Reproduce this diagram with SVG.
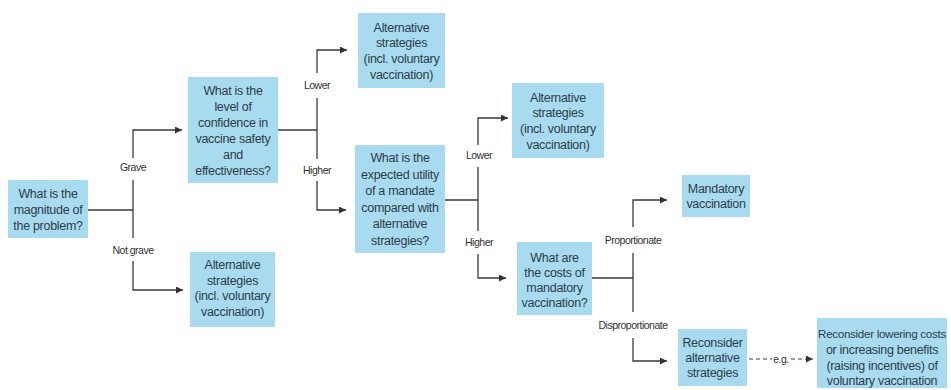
<svg xmlns="http://www.w3.org/2000/svg" width="951" height="390" viewBox="0 0 951 390">
<defs>
<marker id="arr" markerUnits="userSpaceOnUse" markerWidth="7" markerHeight="7" refX="7" refY="3.5" orient="auto">
<path d="M0,0 L7,3.5 L0,7 z" fill="#333"/>
</marker>
<style>
.box{fill:#a9dbf0;}
.t{font-family:"Liberation Sans",Arial,sans-serif;font-size:12.5px;letter-spacing:-0.3px;fill:#2e3b48;text-anchor:middle;}
.sm{font-size:11.6px;}
.lb{font-family:"Liberation Sans",Arial,sans-serif;font-size:10.5px;letter-spacing:-0.5px;fill:#333;text-anchor:middle;}
.ln{fill:none;stroke:#3a3a3a;stroke-width:1.3;}
.dash{fill:none;stroke:#3a3a3a;stroke-width:1.2;stroke-dasharray:4 3;}
</style>
</defs>
<rect width="951" height="390" fill="#fff"/>

<g id="connectors">
<path class="ln" d="M88,210 H133"/>
<path class="ln" d="M133,158 V130 H182" marker-end="url(#arr)"/>
<path class="ln" d="M133,180 V238"/>
<path class="ln" d="M133,261 V290 H183" marker-end="url(#arr)"/>

<path class="ln" d="M278,130 H317"/>
<path class="ln" d="M317,73 V50 H347" marker-end="url(#arr)"/>
<path class="ln" d="M317,98 V159"/>
<path class="ln" d="M317,181 V210 H346" marker-end="url(#arr)"/>

<path class="ln" d="M445,200 H478"/>
<path class="ln" d="M478,145 V118 H508" marker-end="url(#arr)"/>
<path class="ln" d="M478,167 V231"/>
<path class="ln" d="M478,254 V278 H506" marker-end="url(#arr)"/>

<path class="ln" d="M592,278 H633"/>
<path class="ln" d="M633,227 V200 H667" marker-end="url(#arr)"/>
<path class="ln" d="M633,253 V312"/>
<path class="ln" d="M633,338 V361 H667" marker-end="url(#arr)"/>

<path class="dash" d="M749,359 H772"/>
<path class="dash" d="M791,359 H813" marker-end="url(#arr)"/>

<text class="lb" x="133" y="170.5">Grave</text>
<text class="lb" x="133" y="253.5">Not grave</text>
<text class="lb" x="317" y="88.5">Lower</text>
<text class="lb" x="317" y="173.5">Higher</text>
<text class="lb" x="479" y="158.5">Lower</text>
<text class="lb" x="479" y="245.5">Higher</text>
<text class="lb" x="633" y="243.5">Proportionate</text>
<text class="lb" x="633" y="328.5">Disproportionate</text>
<text class="lb" x="781" y="362.5">e.g.</text>
</g>

<g id="n1">
<rect class="box" x="8" y="180" width="80" height="58"/>
<text class="t" x="48" y="197.5">What is the</text>
<text class="t" x="48" y="213.5">magnitude of</text>
<text class="t" x="48" y="229.5">the problem?</text>
</g>

<g id="n2">
<rect class="box" x="188" y="77" width="90" height="106"/>
<text class="t" x="233" y="94.5">What is the</text>
<text class="t" x="233" y="110.5">level of</text>
<text class="t" x="233" y="126.5">confidence in</text>
<text class="t" x="233" y="142.5">vaccine safety</text>
<text class="t" x="233" y="158.5">and</text>
<text class="t" x="233" y="174.5">effectiveness?</text>
</g>

<g id="n3">
<rect class="box" x="358" y="13" width="87" height="75"/>
<text class="t" x="401.5" y="31.5">Alternative</text>
<text class="t" x="401.5" y="47.2">strategies</text>
<text class="t" x="401.5" y="62.8">(incl. voluntary</text>
<text class="t" x="401.5" y="78.5">vaccination)</text>
</g>

<g id="n4">
<rect class="box" x="512" y="83" width="92" height="75"/>
<text class="t" x="558" y="101.5">Alternative</text>
<text class="t" x="558" y="117.2">strategies</text>
<text class="t" x="558" y="132.8">(incl. voluntary</text>
<text class="t" x="558" y="148.5">vaccination)</text>
</g>

<g id="n5">
<rect class="box" x="355" y="145" width="90" height="108"/>
<text class="t" x="400" y="162">What is the</text>
<text class="t" x="400" y="178.6">expected utility</text>
<text class="t" x="400" y="195.2">of a mandate</text>
<text class="t" x="400" y="211.8">compared with</text>
<text class="t" x="400" y="228.4">alternative</text>
<text class="t" x="400" y="245">strategies?</text>
</g>

<g id="n6">
<rect class="box" x="190" y="252" width="85" height="75"/>
<text class="t" x="232.5" y="269">Alternative</text>
<text class="t" x="232.5" y="284.5">strategies</text>
<text class="t" x="232.5" y="300">(incl. voluntary</text>
<text class="t" x="232.5" y="315.5">vaccination)</text>
</g>

<g id="n7">
<rect class="box" x="517" y="242" width="75" height="73"/>
<text class="t" x="554.5" y="261.5">What are</text>
<text class="t" x="554.5" y="276.5">the costs of</text>
<text class="t" x="554.5" y="291.5">mandatory</text>
<text class="t" x="554.5" y="306.5">vaccination?</text>
</g>

<g id="n8">
<rect class="box" x="682" y="175" width="68" height="42"/>
<text class="t" x="716" y="192.5">Mandatory</text>
<text class="t" x="716" y="207.5">vaccination</text>
</g>

<g id="n9">
<rect class="box" x="678" y="329" width="69" height="57"/>
<text class="t" x="712.5" y="346.5">Reconsider</text>
<text class="t" x="712.5" y="361.5">alternative</text>
<text class="t" x="712.5" y="376.5">strategies</text>
</g>

<g id="n10">
<rect class="box" x="817" y="318" width="130" height="70"/>
<text class="t sm" x="882" y="337.5">Reconsider lowering costs</text>
<text class="t" x="882" y="353.5">or increasing benefits</text>
<text class="t" x="882" y="369.5">(raising incentives) of</text>
<text class="t" x="882" y="384.5">voluntary vaccination</text>
</g>
</svg>
